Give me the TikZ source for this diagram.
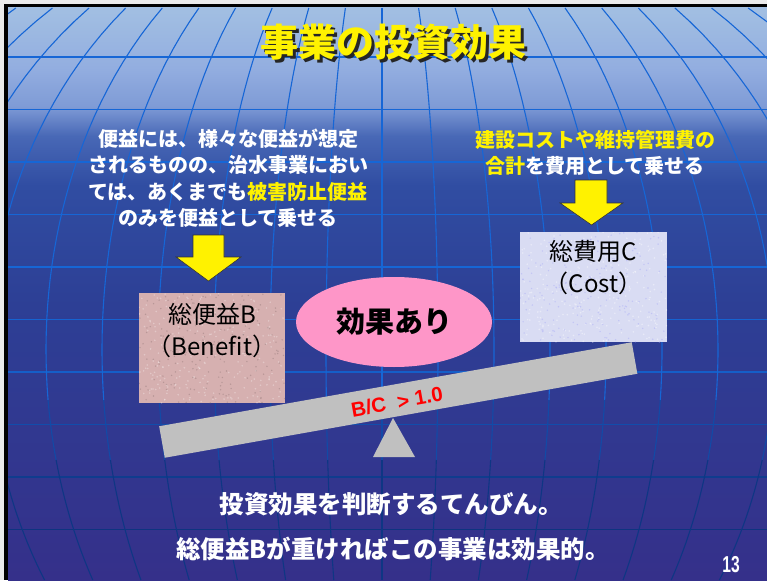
\documentclass[tikz,border=0pt]{standalone}
\usepackage{fontspec}
\usepackage{graphicx}
\usetikzlibrary{shapes.geometric}
\newfontfamily\jp{Noto Sans CJK JP}
\newfontfamily\arialfont{Liberation Sans}
\definecolor{c0}{HTML}{A2BFE2}
\definecolor{c60}{HTML}{93AEE0}
\definecolor{c100}{HTML}{7F9BD6}
\definecolor{c130}{HTML}{4868B6}
\definecolor{c180}{HTML}{304DA2}
\definecolor{c300}{HTML}{2D3F95}
\definecolor{c580}{HTML}{35308A}
\definecolor{gridA}{HTML}{1666D6}
\definecolor{gridB}{HTML}{0D2E76}
\definecolor{benpink}{HTML}{D6B0B0}
\definecolor{costblue}{HTML}{D9DCF3}
\definecolor{effpink}{HTML}{FE96C8}
\definecolor{beamgray}{HTML}{C0C0C0}
\pgfdeclareverticalshading{bgshade}{100bp}{color(0bp)=(c580); color(25bp)=(c580); color(49bp)=(c300); color(59.5bp)=(c180); color(63.8bp)=(c130); color(66.4bp)=(c100); color(69.8bp)=(c60); color(75bp)=(c0); color(100bp)=(c0)}
\tikzset{
  wtext/.style={text=white, font=\jp\bfseries\fontsize{20}{26.5}\selectfont, align=center, inner sep=0pt},
  btmtext/.style={text=white, font=\jp\bfseries\fontsize{24.5}{24.5}\selectfont, inner sep=0pt},
  boxtext/.style={text=black, font=\jp\fontsize{24}{32}\selectfont, align=center, inner sep=0pt},
  yarrow/.style={fill=yellow, draw=black!80, line width=0.6pt, line join=miter},
  gridline/.style={line width=1.1pt},
  plainbox/.style={minimum width=146pt, minimum height=110pt, inner sep=0pt}
}
\begin{document}
\begin{tikzpicture}[x=1pt, y=-1pt]
\useasboundingbox (0,0) rectangle (767,580);
% page and frame
\fill[white!92!black] (0,0) rectangle (767,580);
\fill[black] (4,4) rectangle (767,580);
\shade[shading=bgshade] (8,8) rectangle (767,580);
% grid
\begin{scope}
\clip (8,8) rectangle (767,580);
\foreach \yy/\mx in {57/0, 109.5/0, 162/0, 214.5/0, 267/0, 319.5/5, 372/15, 424.5/45, 477/75, 529.5/90}{
  \draw[gridline, gridB!\mx!gridA] (8,\yy) -- (767,\yy);
}
\foreach \k in {-12,...,12}{
  \draw[gridline, gridA] plot[domain=8:400, samples=30, variable=\t] ({382+56*\k*sqrt(1-((\t-350)/452)^2)}, \t);
  \draw[gridline, gridB!50!gridA] plot[domain=400:460, samples=8, variable=\t] ({382+56*\k*sqrt(1-((\t-350)/452)^2)}, \t);
  \draw[gridline, gridB!85!gridA] plot[domain=460:580, samples=14, variable=\t] ({382+56*\k*sqrt(1-((\t-350)/452)^2)}, \t);
}
\end{scope}
% title
\node[font=\jp\bfseries\fontsize{38}{38}\selectfont, text=black!85, inner sep=0pt] (titleshadow) at (396,45) {事業の投資効果};
\node[font=\jp\bfseries\fontsize{38}{38}\selectfont, text=yellow, inner sep=0pt] (title) at (393,42) {事業の投資効果};
% upper texts
\node[wtext] (btext) at (228,178) {便益には、様々な便益が想定\\されるものの、治水事業におい\\ては、あくまでも\textcolor{yellow}{被害防止便益}\\のみを便益として乗せる};
\node[wtext] (ctext) at (595,153) {\textcolor{yellow}{建設コストや維持管理費の}\\\textcolor{yellow}{合計}を費用として乗せる};
% yellow block arrows
\draw[yarrow] (193,235) -- (224,235) -- (224,257) -- (241,257) -- (208.5,281) -- (176,257) -- (193,257) -- cycle;
\draw[yarrow] (575,180) -- (607,180) -- (607,203) -- (623,203) -- (591.5,225) -- (560,203) -- (575,203) -- cycle;
% benefit box
\node[plainbox, fill=benpink] (ben) at (212,348) {};
\begin{scope}
\clip (139,293) rectangle (285,403);
\pgfmathsetseed{7}
\foreach \i in {1,...,260}{
  \pgfmathsetmacro\px{139+146*rnd}\pgfmathsetmacro\py{293+110*rnd}
  \fill[white, opacity=0.3] (\px,\py) circle (0.9);
}
\foreach \i in {1,...,200}{
  \pgfmathsetmacro\px{139+146*rnd}\pgfmathsetmacro\py{293+110*rnd}
  \fill[black!40!benpink, opacity=0.35] (\px,\py) circle (0.8);
}
\end{scope}
\node[boxtext] (bentext) at (212,331) {総便益B\\（Benefit）};
% cost box
\node[plainbox, minimum width=147pt, fill=costblue] (cost) at (593.5,287) {};
\begin{scope}
\clip (520,232) rectangle (667,342);
\foreach \i in {1,...,260}{
  \pgfmathsetmacro\px{520+147*rnd}\pgfmathsetmacro\py{232+110*rnd}
  \fill[white, opacity=0.4] (\px,\py) circle (0.9);
}
\foreach \i in {1,...,200}{
  \pgfmathsetmacro\px{520+147*rnd}\pgfmathsetmacro\py{232+110*rnd}
  \fill[blue!30!costblue, opacity=0.35] (\px,\py) circle (0.8);
}
\end{scope}
\node[boxtext] (costtext) at (593.5,268) {総費用C\\（Cost）};
% effect ellipse
\node[ellipse, fill=effpink, minimum width=196pt, minimum height=90pt, inner sep=0pt,
      font=\jp\bfseries\fontsize{29}{29}\selectfont] (eff) at (394,322) {効果あり};
% balance beam and fulcrum
\node[fill=beamgray, minimum width=480pt, minimum height=32pt, inner sep=0pt, rotate=10.08] (beam) at (398.25,400) {};
\node[text=red, font=\arialfont\bfseries\fontsize{20.5}{20.5}\selectfont, inner sep=0pt, rotate=10.08] (bc) at (397,402) {B/C\ \ > 1.0};
\fill[beamgray] (393,418) -- (415,457) -- (373,457) -- cycle;
% bottom texts
\node[btmtext] (line1) at (391,504) {投資効果を判断するてんびん。};
\node[btmtext] (line2) at (393,549) {総便益Bが重ければこの事業は効果的。};
\node[text=white, font=\arialfont\bfseries\fontsize{23}{23}\selectfont, inner sep=0pt] (pagenum) at (731,565) {\scalebox{0.68}[1]{13}};
\end{tikzpicture}
\end{document}
